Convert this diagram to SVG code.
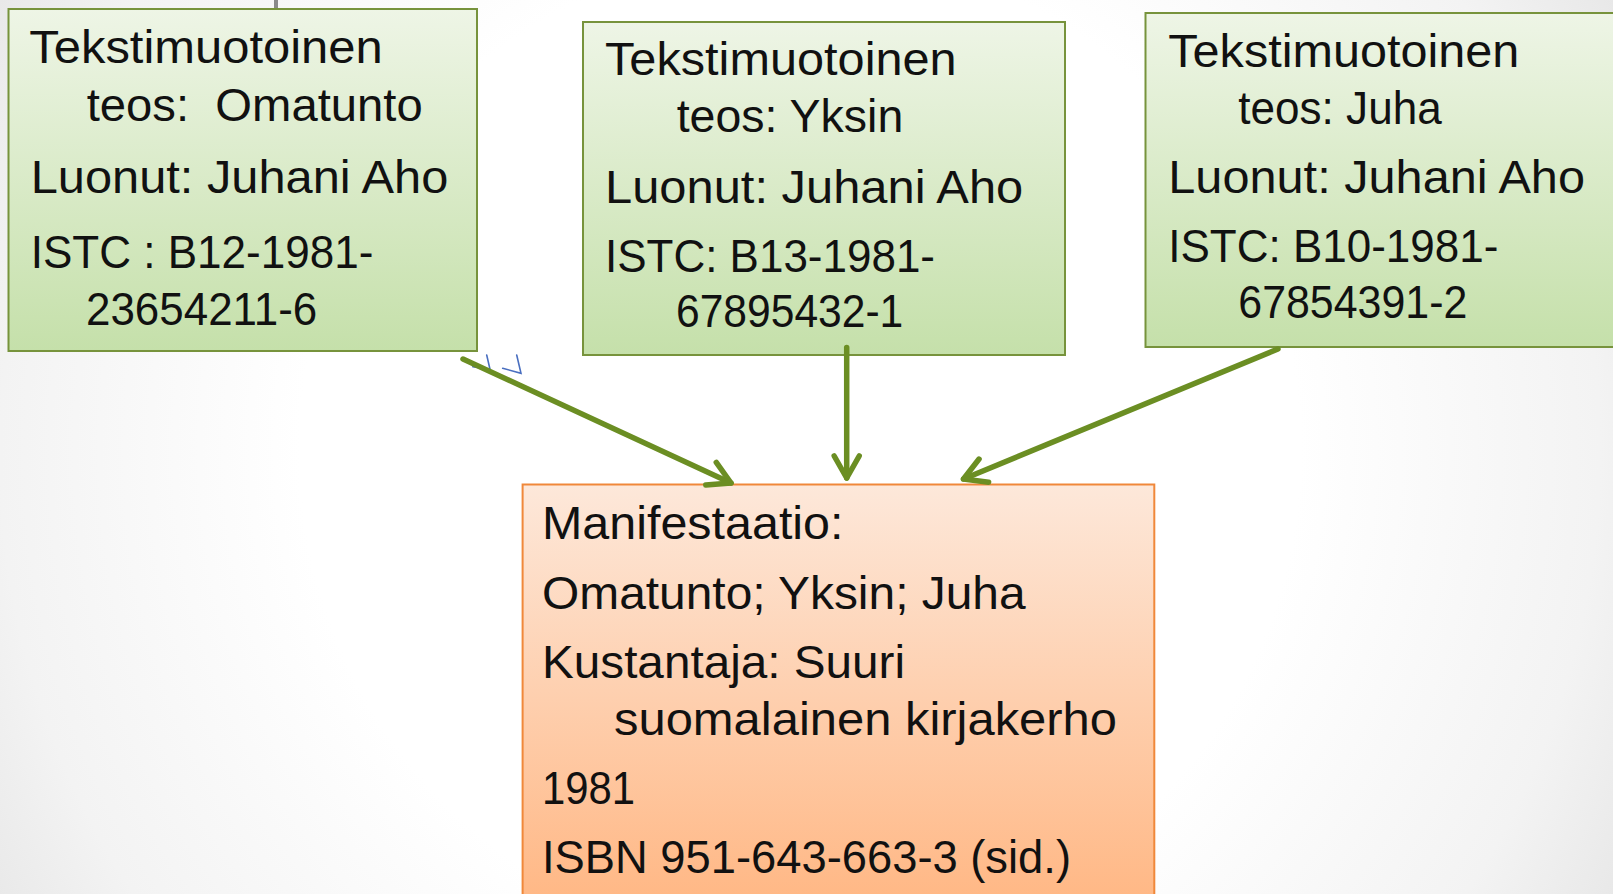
<svg xmlns="http://www.w3.org/2000/svg" width="1613" height="894" viewBox="0 0 1613 894">
<defs>
<radialGradient id="bg" cx="800" cy="450" r="1000" gradientUnits="userSpaceOnUse">
<stop offset="0.5" stop-color="#ffffff"/>
<stop offset="0.8" stop-color="#f3f3f3"/>
<stop offset="1" stop-color="#e2e2e2"/>
</radialGradient>
<linearGradient id="gfill" x1="0" y1="0" x2="0" y2="1">
<stop offset="0" stop-color="#eef5e6"/>
<stop offset="1" stop-color="#c5e0aa"/>
</linearGradient>
<linearGradient id="ofill" x1="0" y1="0" x2="0" y2="1">
<stop offset="0" stop-color="#fde8da"/>
<stop offset="1" stop-color="#ffb682"/>
</linearGradient>
<marker id="arr" markerUnits="userSpaceOnUse" markerWidth="48" markerHeight="44" viewBox="0 0 48 44" refX="26" refY="22" orient="auto" overflow="visible">
<path d="M4,9.5 L26,22 L4,34.5" fill="none" stroke="#6b8e23" stroke-width="5.5" stroke-linecap="round" stroke-linejoin="round"/>
</marker>
<style>
.gbox{fill:url(#gfill);stroke:#77933c;stroke-width:2}
.obox{fill:url(#ofill);stroke:#f0883a;stroke-width:2}
.t{font-family:"Liberation Sans",Arial,sans-serif;font-size:46px;fill:#111}
.conn{fill:none;stroke:#6b8e23;stroke-width:5.5;stroke-linecap:round;marker-end:url(#arr)}
.mark{fill:none;stroke:#4a6fc0;stroke-width:1.6;stroke-linecap:round}
</style>
</defs>
<rect x="0" y="0" width="1613" height="894" fill="url(#bg)"/>
<rect x="274" y="0" width="4" height="10" fill="#8a8a8a"/>

<g id="node-omatunto">
<rect class="gbox" x="8.5" y="9" width="468.5" height="342"/>
<text class="t" x="29.3" y="62.7" textLength="353.4" lengthAdjust="spacingAndGlyphs">Tekstimuotoinen</text>
<text class="t" x="86.7" y="120.7" textLength="336" lengthAdjust="spacingAndGlyphs" xml:space="preserve">teos:  Omatunto</text>
<text class="t" x="30.7" y="193.3" textLength="417.6" lengthAdjust="spacingAndGlyphs">Luonut: Juhani Aho</text>
<text class="t" x="30.7" y="267.7" textLength="342.6" lengthAdjust="spacingAndGlyphs">ISTC : B12-1981-</text>
<text class="t" x="86" y="325" textLength="231.3" lengthAdjust="spacingAndGlyphs">23654211-6</text>
</g>

<g id="node-yksin">
<rect class="gbox" x="583" y="22" width="482" height="333"/>
<text class="t" x="605" y="75" textLength="351.7" lengthAdjust="spacingAndGlyphs">Tekstimuotoinen</text>
<text class="t" x="676.7" y="131.7" textLength="226.6" lengthAdjust="spacingAndGlyphs">teos: Yksin</text>
<text class="t" x="605" y="202.7" textLength="418.3" lengthAdjust="spacingAndGlyphs">Luonut: Juhani Aho</text>
<text class="t" x="605" y="271.7" textLength="330" lengthAdjust="spacingAndGlyphs">ISTC: B13-1981-</text>
<text class="t" x="676" y="326.7" textLength="227.3" lengthAdjust="spacingAndGlyphs">67895432-1</text>
</g>

<g id="node-juha">
<rect class="gbox" x="1145.5" y="13" width="480" height="334"/>
<text class="t" x="1168.3" y="66.7" textLength="351" lengthAdjust="spacingAndGlyphs">Tekstimuotoinen</text>
<text class="t" x="1238.3" y="124" textLength="203.4" lengthAdjust="spacingAndGlyphs">teos: Juha</text>
<text class="t" x="1168.3" y="193.3" textLength="416.7" lengthAdjust="spacingAndGlyphs">Luonut: Juhani Aho</text>
<text class="t" x="1168.3" y="261.7" textLength="330" lengthAdjust="spacingAndGlyphs">ISTC: B10-1981-</text>
<text class="t" x="1238.3" y="318.3" textLength="229" lengthAdjust="spacingAndGlyphs">67854391-2</text>
</g>

<g id="node-manifestaatio">
<rect class="obox" x="522.6" y="484.5" width="631.7" height="430"/>
<text class="t" x="542" y="539" textLength="301.5" lengthAdjust="spacingAndGlyphs">Manifestaatio:</text>
<text class="t" x="542" y="608.5" textLength="483.6" lengthAdjust="spacingAndGlyphs">Omatunto; Yksin; Juha</text>
<text class="t" x="542" y="678" textLength="363" lengthAdjust="spacingAndGlyphs">Kustantaja: Suuri</text>
<text class="t" x="614" y="734.5" textLength="503" lengthAdjust="spacingAndGlyphs">suomalainen kirjakerho</text>
<text class="t" x="542" y="804" textLength="93" lengthAdjust="spacingAndGlyphs">1981</text>
<text class="t" x="542" y="873" textLength="529" lengthAdjust="spacingAndGlyphs">ISBN 951-643-663-3 (sid.)</text>
</g>

<g id="marks">
<path class="mark" d="M486.7,355 L490,369.3 L472.7,366.7"/>
<path class="mark" d="M516.7,355 L521,373.3 L502.7,368.3"/>
</g>

<g id="connectors">
<line class="conn" x1="463" y1="359" x2="731" y2="483"/>
<line class="conn" x1="846.7" y1="347.5" x2="846.7" y2="478"/>
<line class="conn" x1="1278" y1="349" x2="963.5" y2="479"/>
</g>
</svg>
